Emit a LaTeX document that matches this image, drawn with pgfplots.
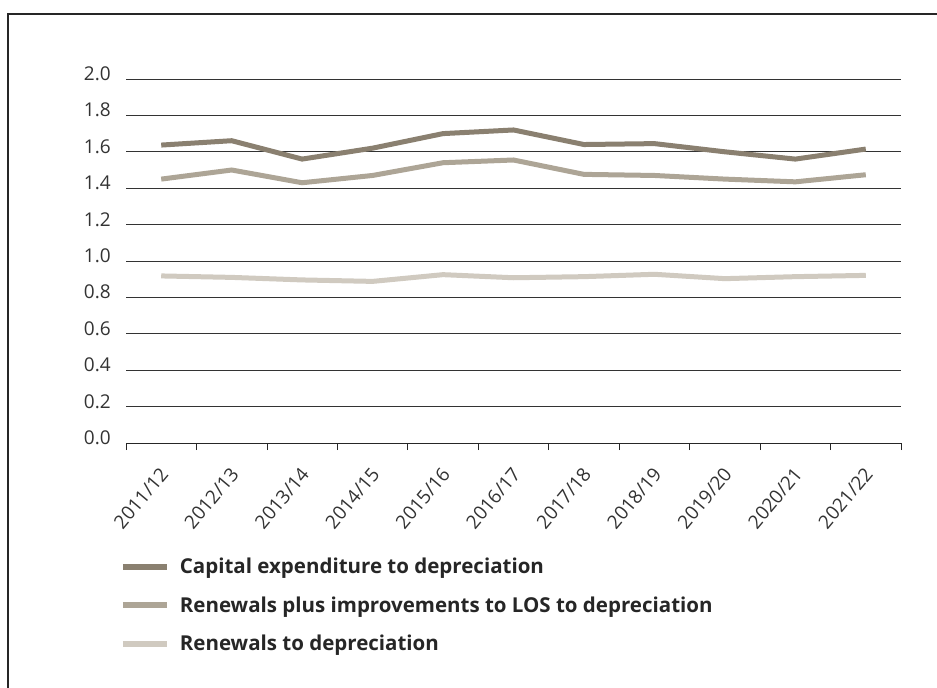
\documentclass[border=0pt]{standalone}
\usepackage{pgfplots}
\pgfplotsset{compat=1.18}
\usepackage{fontspec}
\setmainfont{Open Sans}
\definecolor{capc}{HTML}{8A8070}
\definecolor{renpc}{HTML}{ADA596}
\definecolor{renc}{HTML}{D0CAC0}
\definecolor{txt}{HTML}{333333}
\begin{document}
\begin{tikzpicture}[x=1pt,y=1pt]
\useasboundingbox (0pt,0pt) rectangle (937pt,-688pt);
\draw[line width=1.3pt, color=black!85] (8pt,-720pt) -- (8pt,-14pt) -- (960pt,-14pt);
\begin{axis}[
  at={(126pt,-443pt)}, anchor=south west,
  width=775pt, height=364pt, scale only axis,
  xmin=-0.5, xmax=10.5, ymin=0, ymax=2,
  axis x line*=bottom, axis y line*=left,
  y axis line style={draw=none},
  x axis line style={black!85, line width=0.8pt},
  ytick={0,0.2,0.4,0.6,0.8,1.0,1.2,1.4,1.6,1.8,2.0},
  ymajorgrids, major grid style={black!80, line width=0.8pt},
  ytick style={draw=none},
  /pgf/number format/assume math mode=true,
  yticklabel style={/pgf/number format/.cd, fixed, fixed zerofill, precision=1, /tikz/.cd, anchor=base east, xshift=-7.5pt, yshift=-1.5pt, font=\fontsize{19}{22}\selectfont, text=txt},
  xtick={0,1,2,3,4,5,6,7,8,9,10},
  xticklabels={2011/12,2012/13,2013/14,2014/15,2015/16,2016/17,2017/18,2018/19,2019/20,2020/21,2021/22},
  minor xtick={-0.5,0.5,1.5,2.5,3.5,4.5,5.5,6.5,7.5,8.5,9.5,10.5},
  major x tick style={draw=none},
  minor x tick style={black!85, line width=0.8pt},
  tick align=outside, minor tick length=7pt,
  xticklabel style={xshift=3pt, yshift=-23pt, rotate=50, anchor=east, inner sep=0pt, font=\fontsize{19}{22}\selectfont, text=txt},
  legend style={at={(-0.012,-0.305)}, anchor=north west, draw=none, fill=none,
    font=\bfseries\fontsize{20.5}{24}\selectfont, text=black!85, row sep=17.5pt},
  legend cell align=left,
  legend image code/.code={\draw[#1, line width=6pt] (0pt,0pt) -- (44pt,0pt);},
]
\addplot[capc, line width=5pt] coordinates {(0,1.637) (1,1.661) (2,1.56) (3,1.62) (4,1.70) (5,1.72) (6,1.64) (7,1.645) (8,1.60) (9,1.56) (10,1.615)};
\addlegendentry{\hspace{8pt}Capital expenditure to depreciation}
\addplot[renpc, line width=5pt] coordinates {(0,1.45) (1,1.50) (2,1.43) (3,1.47) (4,1.54) (5,1.555) (6,1.476) (7,1.47) (8,1.45) (9,1.435) (10,1.474)};
\addlegendentry{\hspace{8pt}Renewals plus improvements to LOS to depreciation}
\addplot[renc, line width=5pt] coordinates {(0,0.918) (1,0.91) (2,0.896) (3,0.888) (4,0.925) (5,0.908) (6,0.914) (7,0.927) (8,0.903) (9,0.914) (10,0.921)};
\addlegendentry{\hspace{8pt}Renewals to depreciation}
\end{axis}
\end{tikzpicture}
\end{document}
